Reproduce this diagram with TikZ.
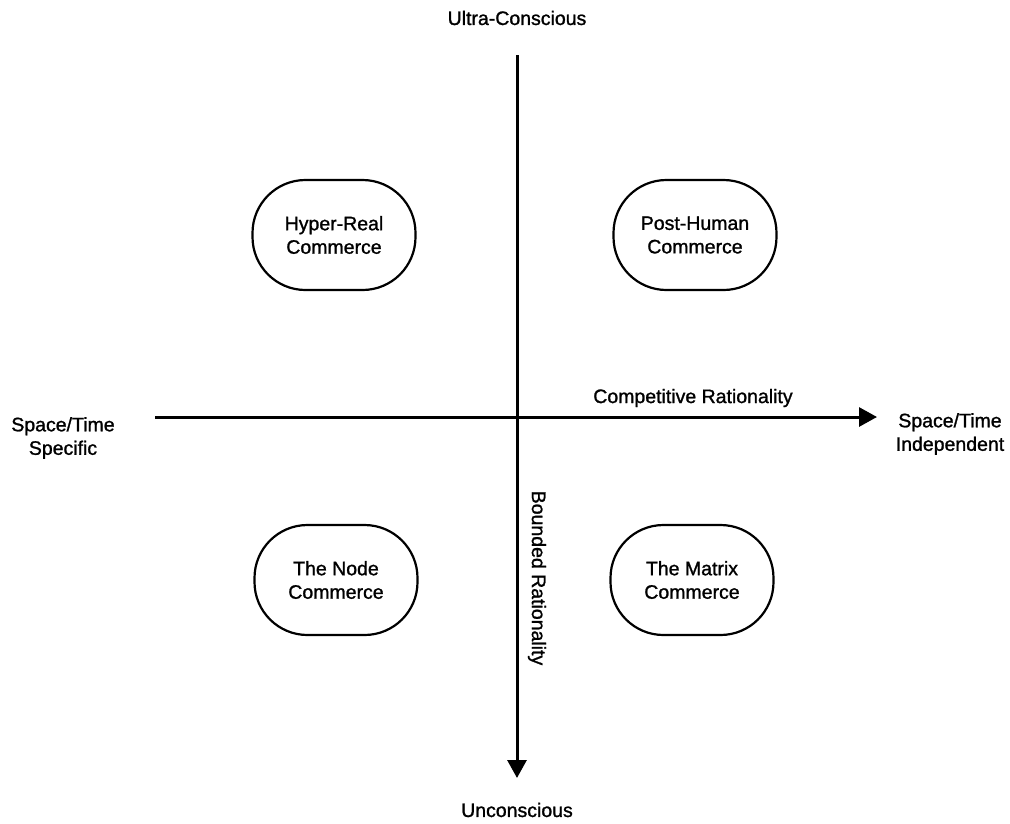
\documentclass[tikz,border=0pt]{standalone}
\usepackage{fontspec}
\setmainfont{Liberation Sans}[FakeBold=1.2]
\usetikzlibrary{arrows.meta}
\begin{document}
\begin{tikzpicture}[x=1pt,y=-1pt,
  every node/.style={font=\fontsize{19.5}{23.5}\selectfont, align=center, inner sep=0pt},
  quad/.style={draw, line width=2.2pt, rounded corners=53pt, minimum width=163pt, minimum height=110pt},
  axis/.style={line width=3pt, -{Triangle[length=18pt,width=19pt]}},
  lbl/.style={}]
\useasboundingbox (0,0) rectangle (1010,823);
\coordinate (top) at (517,55);
\coordinate (bottom) at (517,778);
\coordinate (left) at (155,417);
\coordinate (right) at (877,417);
\draw[axis] (top) -- (bottom);
\draw[axis] (left) -- (right);
\node[lbl] (ultra) at (517,18) {Ultra-Conscious};
\node[lbl] (uncon) at (517,810) {Unconscious};
\node[lbl] (spec) at (63,438) {Space/Time\\Specific};
\node[lbl] (indep) at (950,434) {Space/Time\\Independent};
\node[lbl] (comp) at (693,398) {Competitive Rationality};
\node[lbl, rotate=-90] (bound) at (537,578) {Bounded Rationality};
\node[quad] (hyper) at (334,235) {Hyper-Real\\Commerce};
\node[quad] (post) at (695,235) {Post-Human\\Commerce};
\node[quad] (nodec) at (336,580) {The Node\\Commerce};
\node[quad] (matrix) at (692,580) {The Matrix\\Commerce};
\end{tikzpicture}
\end{document}
